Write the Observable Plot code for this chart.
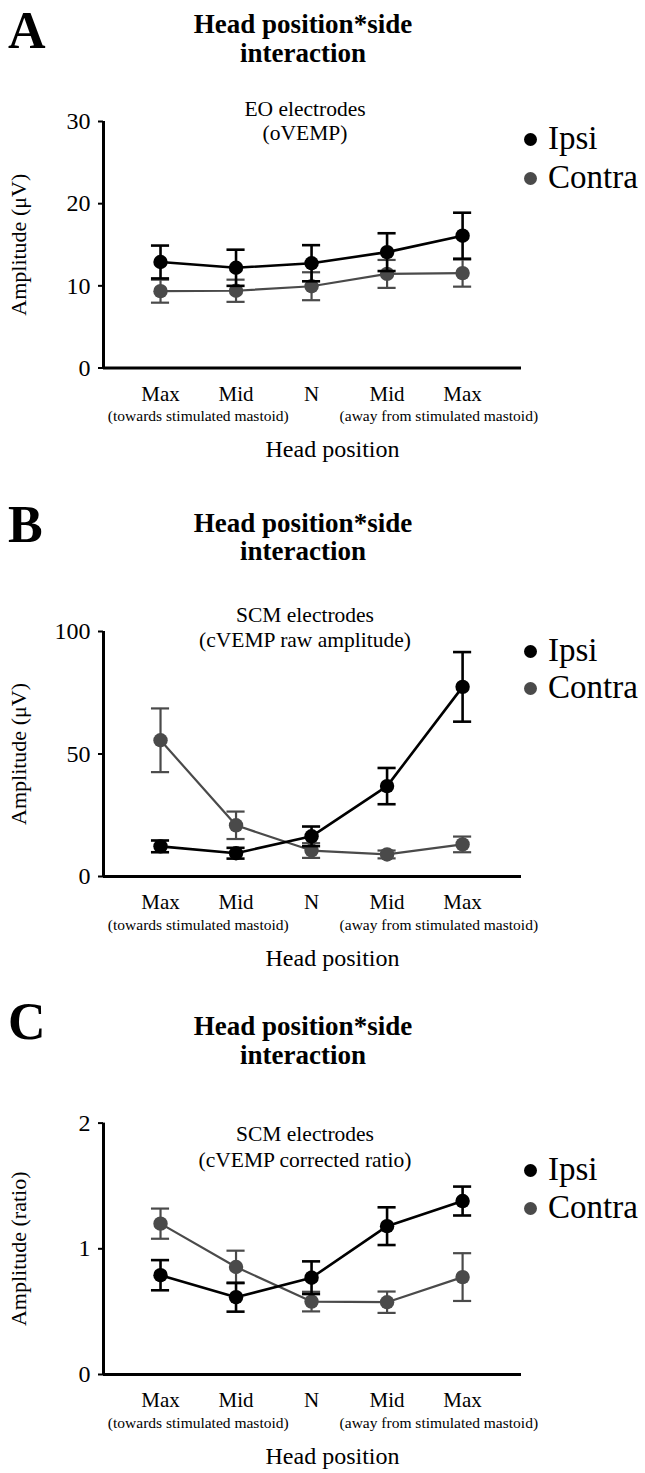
<!DOCTYPE html>
<html><head><meta charset="utf-8">
<script src="https://cdn.jsdelivr.net/npm/d3@7"></script>
<script src="https://cdn.jsdelivr.net/npm/@observablehq/plot@0.6"></script>
<style>
body{margin:0;background:#fff;}
#wrap{position:relative;width:645px;height:1473px;overflow:hidden;font-family:"Liberation Serif","Times New Roman",serif;color:#000;background:#fff;}
.abs{position:absolute;white-space:nowrap;}
.dot{position:absolute;border-radius:50%;}
</style></head><body><div id="wrap"></div>
<script>
// ---------- data ----------
const categories = ["Max", "Mid", "N", "Mid", "Max"];
const subLabels = ["(towards stimulated mastoid)", "(away from stimulated mastoid)"];
const xTitle = "Head position";
const sides = ["Ipsi", "Contra"];
const panelLetters = ["A", "B", "C"];
const titleLines = ["Head position*side", "interaction"];

const subtitleA = ["EO electrodes", "(oVEMP)"];
const subtitleB = ["SCM electrodes", "(cVEMP raw amplitude)"];
const subtitleC = ["SCM electrodes", "(cVEMP corrected ratio)"];

const yLabelA = "Amplitude (μV)";
const yLabelB = "Amplitude (μV)";
const yLabelC = "Amplitude (ratio)";

const yTicksA = [0, 10, 20, 30];
const yTicksB = [0, 50, 100];
const yTicksC = [0, 1, 2];

const ipsiA = [12.9, 12.2, 12.75, 14.1, 16.1];
const ipsiErrA = [2.0, 2.2, 2.2, 2.3, 2.8];
const contraA = [9.35, 9.4, 9.95, 11.45, 11.55];
const contraErrA = [1.4, 1.35, 1.7, 1.7, 1.65];

const ipsiB = [12.3, 9.5, 16.4, 36.9, 77.4];
const ipsiErrB = [2.4, 2.2, 4.0, 7.4, 14.2];
const contraB = [55.6, 20.9, 10.6, 9.0, 13.1];
const contraErrB = [13.0, 5.6, 3.0, 1.6, 3.2];

const ipsiC = [0.79, 0.615, 0.77, 1.18, 1.38];
const ipsiErrC = [0.12, 0.115, 0.13, 0.15, 0.115];
const contraC = [1.2, 0.855, 0.58, 0.575, 0.775];
const contraErrC = [0.12, 0.13, 0.078, 0.085, 0.19];

// ---------- styling / layout ----------
const colors = {Ipsi: "#000000", Contra: "#4a4a4a"};
const serif = "'Liberation Serif','Times New Roman',serif";
const xDomain = [-0.755, 4.78];
const capHalf = 0.12;

const panels = [
  {letter: panelLetters[0], sub: subtitleA, yLabel: yLabelA, ticks: yTicksA, ipsi: ipsiA, ipsiErr: ipsiErrA, contra: contraA, contraErr: contraErrA,
   top: 0, h: 480, mt: 121, mb: 112.5, letterBase: 49, titleBase: [34, 63], subBase: [117, 141], legBase: [149, 188]},
  {letter: panelLetters[1], sub: subtitleB, yLabel: yLabelB, ticks: yTicksB, ipsi: ipsiB, ipsiErr: ipsiErrB, contra: contraB, contraErr: contraErrB,
   top: 490, h: 490, mt: 141, mb: 104, letterBase: 543, titleBase: [533, 561], subBase: [623, 648], legBase: [661, 698]},
  {letter: panelLetters[2], sub: subtitleC, yLabel: yLabelC, ticks: yTicksC, ipsi: ipsiC, ipsiErr: ipsiErrC, contra: contraC, contraErr: contraErrC,
   top: 980, h: 493, mt: 142.6, mb: 99, letterBase: 1040, titleBase: [1036, 1065], subBase: [1142, 1168], legBase: [1180, 1218]}
];

const wrap = document.getElementById("wrap");

// Liberation Serif: ascent 0.891em, descent 0.216em; baseline offset inside a box of line-height lh
function place(text, {x, base, size, bold = false, anchor = "start", lh = 1.1}) {
  const d = document.createElement("div");
  d.className = "abs";
  d.textContent = text;
  d.style.fontSize = size + "px";
  d.style.lineHeight = String(lh);
  d.style.fontWeight = bold ? "bold" : "normal";
  const baseOffset = ((lh - 1.107) / 2 + 0.891) * size;
  d.style.top = (base - baseOffset) + "px";
  d.style.left = x + "px";
  if (anchor === "middle") d.style.transform = "translateX(-50%)";
  wrap.appendChild(d);
}

function dotEl(cx, cy, r, color) {
  const d = document.createElement("div");
  d.className = "dot";
  d.style.left = (cx - r) + "px";
  d.style.top = (cy - r) + "px";
  d.style.width = d.style.height = (2 * r) + "px";
  d.style.background = color;
  wrap.appendChild(d);
}

for (const p of panels) {
  const rows = [];
  sides.forEach(side => {
    const v = side === "Ipsi" ? p.ipsi : p.contra;
    const e = side === "Ipsi" ? p.ipsiErr : p.contraErr;
    categories.forEach((c, i) => rows.push({side, i, cat: c, v: v[i], e: e[i]}));
  });
  const ipsiRows = rows.filter(d => d.side === "Ipsi");
  const contraRows = rows.filter(d => d.side === "Contra");

  const seriesMarks = (data, color, sw) => [
    Plot.line(data, {x: "i", y: "v", stroke: color, strokeWidth: sw}),
    Plot.ruleX(data, {x: "i", y1: d => d.v - d.e, y2: d => d.v + d.e, stroke: color, strokeWidth: sw}),
    Plot.ruleY(data, {y: d => d.v + d.e, x1: d => d.i - capHalf, x2: d => d.i + capHalf, stroke: color, strokeWidth: sw}),
    Plot.ruleY(data, {y: d => d.v - d.e, x1: d => d.i - capHalf, x2: d => d.i + capHalf, stroke: color, strokeWidth: sw}),
    Plot.dot(data, {x: "i", y: "v", r: 7.2, fill: color, stroke: "none"})
  ];

  const chart = Plot.plot({
    width: 645, height: p.h,
    marginLeft: 103, marginRight: 124, marginTop: p.mt, marginBottom: p.mb,
    x: {type: "linear", domain: xDomain, axis: null},
    y: {type: "linear", domain: [p.ticks[0], p.ticks[p.ticks.length - 1]], axis: null},
    style: {fontFamily: serif, background: "transparent", color: "#000", overflow: "visible"},
    marks: [
      Plot.axisY({ticks: p.ticks, tickSize: 5, tickPadding: 8, fontSize: 24, strokeWidth: 2, label: null, tickFormat: d => String(d)}),
      Plot.axisX({ticks: d3.range(categories.length), tickFormat: i => categories[i], tickSize: 0, tickPadding: 18, fontSize: 21, label: null}),
      Plot.text([subLabels[0]], {x: 0.5, frameAnchor: "bottom", dy: 53, fontSize: 15.5, text: d => d}),
      Plot.text([subLabels[1]], {x: 3.5, frameAnchor: "bottom", dx: 14, dy: 53, fontSize: 15.5, text: d => d}),
      Plot.text([xTitle], {frameAnchor: "bottom", dx: 20, dy: 89, fontSize: 24, text: d => d}),
      Plot.text([p.yLabel], {frameAnchor: "left", textAnchor: "middle", rotate: -90, dx: -85, fontSize: 22, text: d => d}),
      ...seriesMarks(contraRows, colors.Contra, 2.2),
      ...seriesMarks(ipsiRows, colors.Ipsi, 2.6),
      Plot.ruleX([xDomain[0]], {stroke: "#000", strokeWidth: 3}),
      Plot.ruleY([p.ticks[0]], {stroke: "#000", strokeWidth: 3})
    ]
  });
  chart.style.position = "absolute";
  chart.style.left = "0px";
  chart.style.top = p.top + "px";
  wrap.appendChild(chart);

  place(p.letter, {x: 8, base: p.letterBase, size: 52, bold: true, lh: 1});
  place(titleLines[0], {x: 303, base: p.titleBase[0], size: 27, bold: true, anchor: "middle"});
  place(titleLines[1], {x: 303, base: p.titleBase[1], size: 27, bold: true, anchor: "middle"});
  place(p.sub[0], {x: 305, base: p.subBase[0], size: 21.5, anchor: "middle"});
  place(p.sub[1], {x: 305, base: p.subBase[1], size: 21.5, anchor: "middle"});
  sides.forEach((s, k) => {
    dotEl(530, p.legBase[k] - 10, 6.5, colors[s]);
    place(s, {x: 548, base: p.legBase[k], size: 33});
  });
}
</script></body></html>
